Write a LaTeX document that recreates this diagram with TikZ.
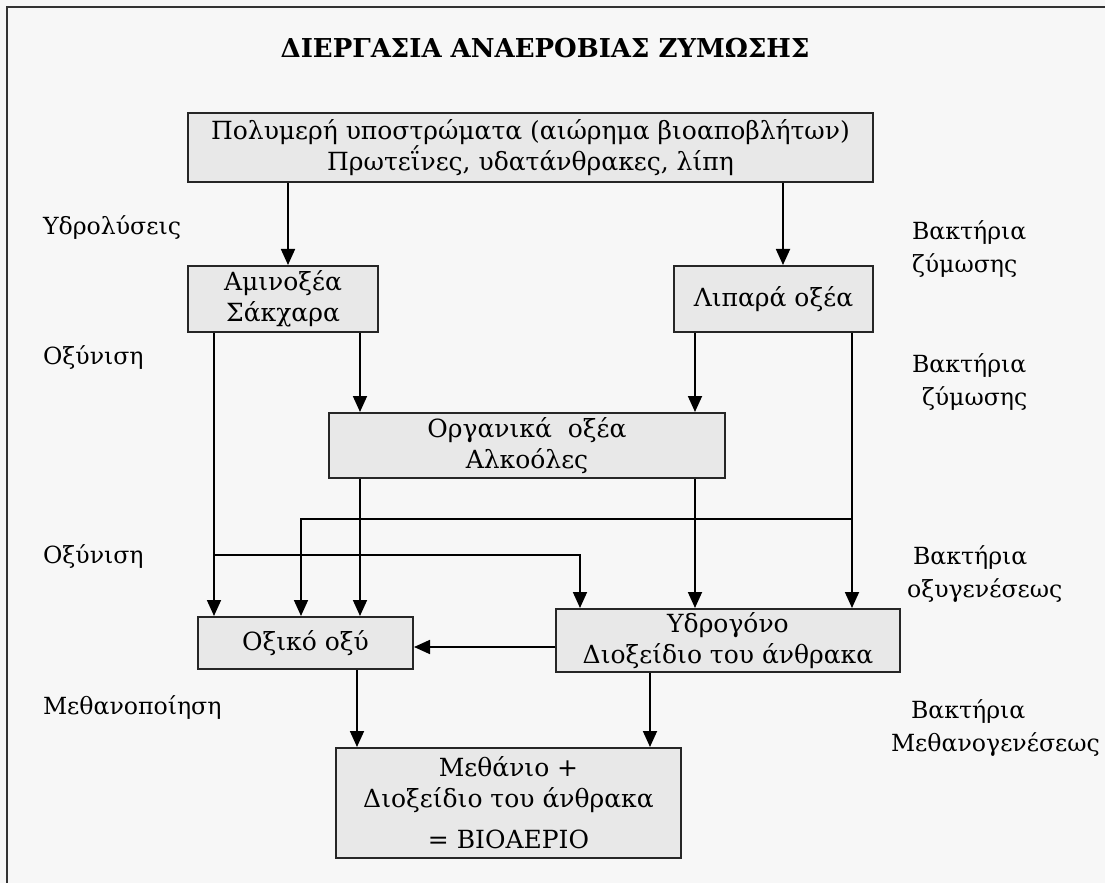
\documentclass[tikz,border=0pt]{standalone}
\usepackage{fontspec}
\setmainfont{DejaVu Serif}
\usepackage{tikz}
\usetikzlibrary{calc, positioning, arrows.meta}
\usepackage{xcolor}
\definecolor{bggray}{HTML}{F7F7F7}
\definecolor{boxgray}{HTML}{E8E8E8}

\tikzset{
  stage/.style={draw=black!85, line width=1pt, fill=boxgray, align=center, inner sep=1pt,
    font=\fontsize{12.5}{15.5}\selectfont},
  side/.style={anchor=west, align=left, font=\fontsize{11.8}{16.5}\selectfont},
  flow/.style={->, line width=0.9pt}
}

\begin{document}
\begin{tikzpicture}[x=0.5pt, y=-0.5pt, >={Triangle[length=8pt, width=7pt]}]
  % frame and background
  \fill[bggray] (0,0) rectangle (1105,883);
  \useasboundingbox (0,0) rectangle (1105,883);
  \draw[line width=1pt, black!80] (7,883) -- (7,7) -- (1105,7);

  \node[font=\fontsize{13}{15}\selectfont\bfseries] (title) at (545,48) {ΔΙΕΡΓΑΣΙΑ ΑΝΑΕΡΟΒΙΑΣ ΖΥΜΩΣΗΣ};

  % stages
  \node[stage, minimum width=342.5pt, minimum height=34.5pt] (poly) at (530.5,147.5)
    {Πολυμερή υποστρώματα (αιώρημα βιοαποβλήτων)\\Πρωτεΐνες, υδατάνθρακες, λίπη};
  \node[stage, minimum width=95pt, minimum height=33pt] (amino) at (283,299) {Αμινοξέα\\Σάκχαρα};
  \node[stage, minimum width=99.5pt, minimum height=33pt] (lipara) at (773.5,299) {Λιπαρά οξέα};
  \node[stage, minimum width=198pt, minimum height=32.5pt] (org) at (527,445.5) {Οργανικά~~οξέα\\Αλκοόλες};
  \node[stage, minimum width=107.5pt, minimum height=26pt] (oxiko) at (305.5,643) {Οξικό οξύ};
  \node[stage, minimum width=172pt, minimum height=31.5pt] (ydro) at (728,640.5)
    {Υδρογόνο\\Διοξείδιο του άνθρακα};
  \node[stage, minimum width=172.5pt, minimum height=55pt] (final) at (508.5,803)
    {Μεθάνιο +\\Διοξείδιο του άνθρακα\\[5pt]= ΒΙΟΑΕΡΙΟ};

  % columns and rows of the connectors
  \coordinate (cA) at (214,0);
  \coordinate (cB) at (288,0);
  \coordinate (cC) at (301,0);
  \coordinate (cD) at (360,0);
  \coordinate (cE) at (357,0);
  \coordinate (cF) at (580,0);
  \coordinate (cG) at (650,0);
  \coordinate (cH) at (695,0);
  \coordinate (cI) at (783,0);
  \coordinate (cJ) at (852,0);
  \coordinate (rA) at (0,519);
  \coordinate (rB) at (0,555);
  \coordinate (rC) at (0,647);

  % connectors
  \draw[flow] (poly.south -| cB) -- (amino.north -| cB);
  \draw[flow] (poly.south -| cI) -- (lipara.north -| cI);
  \draw[flow] (amino.south -| cA) -- (oxiko.north -| cA);
  \draw[flow] (rB -| cA) -- (rB -| cF) -- (ydro.north -| cF);
  \draw[flow] (amino.south -| cD) -- (org.north -| cD);
  \draw[flow] (lipara.south -| cH) -- (org.north -| cH);
  \draw[flow] (lipara.south -| cJ) -- (ydro.north -| cJ);
  \draw[flow] (rA -| cJ) -- (rA -| cC) -- (oxiko.north -| cC);
  \draw[flow] (org.south -| cD) -- (oxiko.north -| cD);
  \draw[flow] (org.south -| cH) -- (ydro.north -| cH);
  \draw[flow] (ydro.west |- rC) -- (oxiko.east |- rC);
  \draw[flow] (oxiko.south -| cE) -- (final.north -| cE);
  \draw[flow] (ydro.south -| cG) -- (final.north -| cG);

  % process names (left)
  \node[side] (hydro) at (36,228) {Υδρολύσεις};
  \node[side] (acid1) at (36,358) {Οξύνιση};
  \node[side] (acid2) at (36,557) {Οξύνιση};
  \node[side] (meth) at (36,708) {Μεθανοποίηση};

  % bacteria (right)
  \node[side] (bact1) at (905,249) {Βακτήρια\\ζύμωσης};
  \node[side] (bact2) at (905,382) {Βακτήρια\\\hspace{5pt}ζύμωσης};
  \node[side] (bact3) at (900,574) {\hspace{3pt}Βακτήρια\\οξυγενέσεως};
  \node[side] (bact4) at (884,728) {\hspace{10pt}Βακτήρια\\Μεθανογενέσεως};
\end{tikzpicture}
\end{document}
